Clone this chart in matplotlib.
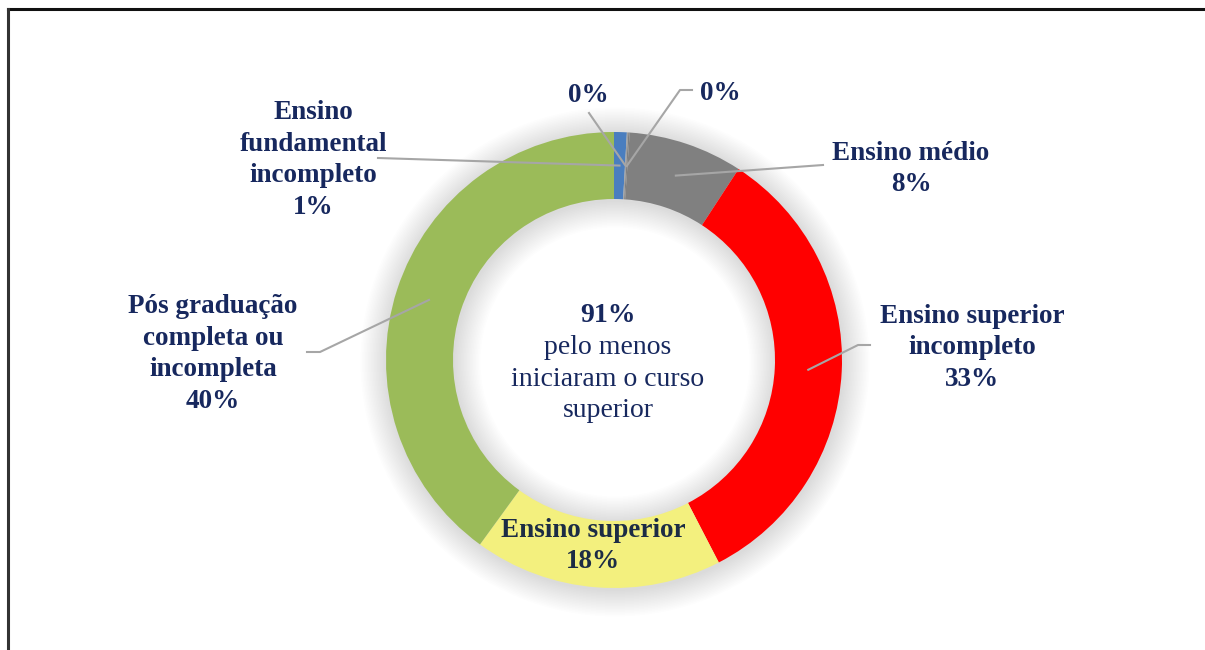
import numpy as np
import matplotlib
matplotlib.use("Agg")
import matplotlib.pyplot as plt
from matplotlib.patches import Wedge
from matplotlib.lines import Line2D

# ---- data ----
categories = ["Ensino fundamental incompleto", "Sem escolaridade", "Ensino fundamental completo",
              "Ensino médio", "Ensino superior incompleto", "Ensino superior",
              "Pós graduação completa ou incompleta"]
values = [0.9, 0.1, 0.1, 8.1, 33.2, 17.6, 40.0]
colors = ["#4A7EBF", "#A0A0A0", "#7F7F7F", "#808080", "#FF0000", "#F3F07E", "#9BBB59"]
label_texts = ["Ensino\nfundamental\nincompleto\n1%", "0%", "0%", "Ensino médio\n8%",
               "Ensino superior\nincompleto\n33%", "Ensino superior\n18%",
               "Pós graduação\ncompleta ou\nincompleta\n40%"]
center_title = "91%"
center_text = "pelo menos\niniciaram o curso\nsuperior"

W, H = 1205, 650
fig = plt.figure(figsize=(W / 100, H / 100), dpi=100)
ax = fig.add_axes([0, 0, 1, 1])

cx, cy = 614, H - 360
R = 228
width = 67
navy = "#17285E"
line_col = "#A6A6A6"
font = "Liberation Serif"

# soft shadow
for k in range(18):
    ax.add_patch(Wedge((cx + 1, cy - 2), R + 1 + k * 1.5, 0, 360, width=width + 2 + k * 3.0,
                       facecolor="black", edgecolor="none", alpha=0.0085, zorder=1))

wedges, _ = ax.pie(values, colors=colors, startangle=90, counterclock=False,
                   radius=R, center=(cx, cy), frame=True,
                   wedgeprops=dict(width=width, edgecolor="none", zorder=3))
ax.set_xlim(0, W)
ax.set_ylim(0, H)
ax.set_aspect("equal")
ax.axis("off")

def mid_point(i, r=R - width / 2):
    w = wedges[i]
    ang = np.deg2rad((w.theta1 + w.theta2) / 2)
    return cx + r * np.cos(ang), cy + r * np.sin(ang)

def P(x, y):
    return x, H - y

tk = dict(family=font, fontweight="bold", fontsize=19.5, color=navy,
          ha="center", va="center", linespacing=1.36, zorder=6)

# 0: fundamental incompleto
ax.text(*P(313, 160), label_texts[0], **tk)
x0, y0 = P(378, 158)
mx, my = mid_point(0)
ax.add_line(Line2D([x0, mx], [y0, my], color=line_col, lw=1.5, zorder=5))
# 1: 0% left
ax.text(*P(588, 96), label_texts[1], **tk)
mx, my = mid_point(1)
x0, y0 = P(589, 113)
ax.add_line(Line2D([x0, mx], [y0, my], color=line_col, lw=1.5, zorder=5))
# 2: 0% right
ax.text(*P(720, 93), label_texts[2], **tk)
mx, my = mid_point(2)
xa, ya = P(692, 90)
xb, yb = P(680, 90)
ax.add_line(Line2D([xa, xb, mx], [ya, yb, my], color=line_col, lw=1.5, zorder=5))
# 3: médio
ax.text(*P(911, 169), label_texts[3], **tk)
mx, my = mid_point(3)
x0, y0 = P(823, 165)
ax.add_line(Line2D([x0, mx], [y0, my], color=line_col, lw=1.5, zorder=5))
# 4: superior incompleto
ax.text(*P(972, 348), label_texts[4], **tk)
mx, my = mid_point(4)
xa, ya = P(870, 345)
xb, yb = P(858, 345)
ax.add_line(Line2D([xa, xb, mx], [ya, yb, my], color=line_col, lw=1.5, zorder=5))
# 5: superior (inside)
tk5 = dict(tk)
tk5["color"] = "#1C2C45"
ax.text(*P(593, 546), label_texts[5], **tk5)
# 6: pós graduação
ax.text(*P(213, 354), label_texts[6], **tk)
mx, my = mid_point(6)
xa, ya = P(307, 352)
xb, yb = P(320, 352)
ax.add_line(Line2D([xa, xb, mx], [ya, yb, my], color=line_col, lw=1.5, zorder=5))

# center text
ax.text(*P(608, 315), center_title, family=font, fontweight="bold", fontsize=20,
        color=navy, ha="center", va="center", zorder=6)
ax.text(*P(608, 379), center_text, family=font, fontsize=20, color=navy,
        ha="center", va="center", linespacing=1.36, zorder=6)

# frame lines (top and left)
fig.add_artist(Line2D([8 / W, 1], [1 - 9 / H, 1 - 9 / H], transform=fig.transFigure,
                      color="#111111", lw=2.2))
fig.add_artist(Line2D([8 / W, 8 / W], [0, 1 - 9 / H], transform=fig.transFigure,
                      color="#333333", lw=2.2))

fig.savefig("out.png", dpi=100, facecolor="white")
